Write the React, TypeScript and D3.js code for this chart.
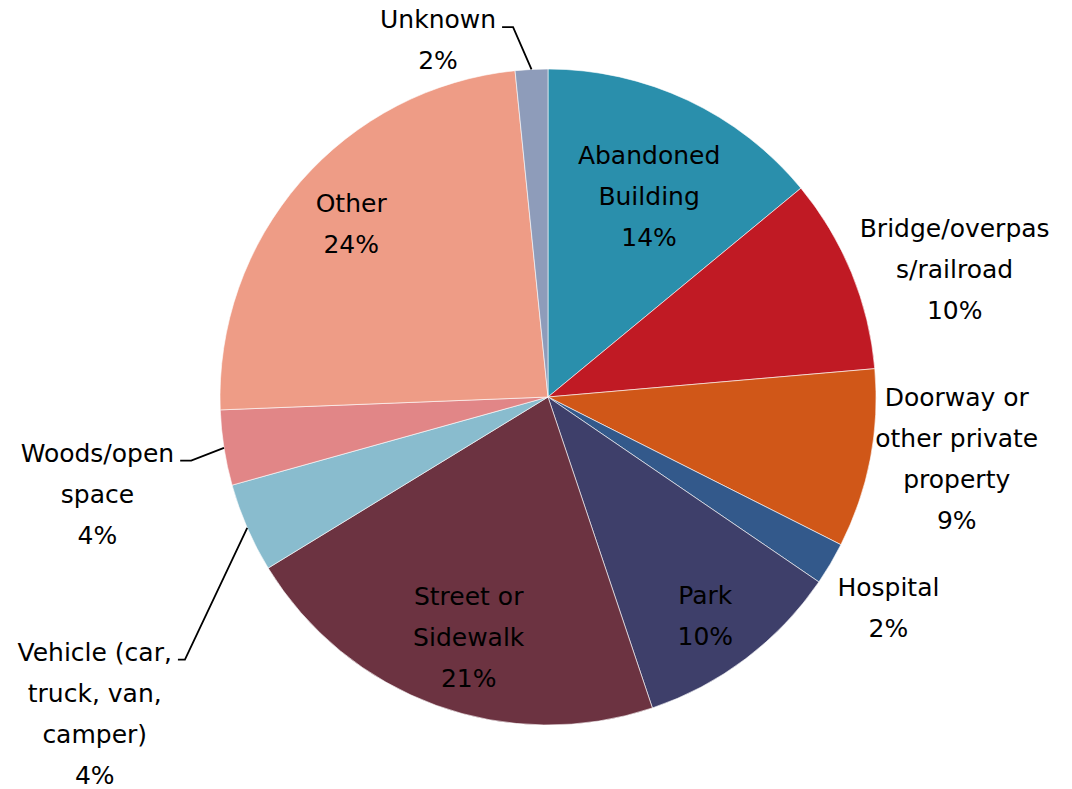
import React, { useEffect, useRef } from "react";
import * as d3 from "d3";

const categories = [
  "Abandoned Building",
  "Bridge/overpass/railroad",
  "Doorway or other private property",
  "Hospital",
  "Park",
  "Street or Sidewalk",
  "Vehicle (car, truck, van, camper)",
  "Woods/open space",
  "Other",
  "Unknown",
];
const values = [14.0, 9.6, 8.8, 2.1, 10.3, 21.4, 4.4, 3.7, 24.0, 1.6];
const labelLines = [
  ["Abandoned", "Building"],
  ["Bridge/overpas", "s/railroad"],
  ["Doorway or", "other private", "property"],
  ["Hospital"],
  ["Park"],
  ["Street or", "Sidewalk"],
  ["Vehicle (car,", "truck, van,", "camper)"],
  ["Woods/open", "space"],
  ["Other"],
  ["Unknown"],
];
const colors = [
  "#2a8fac",
  "#c01a24",
  "#d05718",
  "#33598b",
  "#3e3f6a",
  "#6c3341",
  "#89bcce",
  "#e18687",
  "#ee9c86",
  "#8e9cba",
];
// label placement: polar angle (deg, clockwise from north), radius factor, leader line
const labelAngle = [26.7, 72.5, 98.5, 121.7, 144.2, 198.3, 235.1, 257.9, 311.4, 342.9];
const labelRadius = [0.686, 1.3, 1.26, 1.22, 0.82, 0.77, 1.685, 1.405, 0.8, 1.14];
const hasLeader = [false, false, false, false, false, false, true, true, false, true];

const W = 1072;
const H = 789;
const CX = 548;
const CY = 397;
const R = 328;
const FONT = 25;
const LINE_H = 41;

export default function App() {
  const ref = useRef<SVGSVGElement>(null);
  useEffect(() => {
    const svg = d3.select(ref.current);
    svg.selectAll("*").remove();
    const data = categories.map((c, i) => ({ c, v: values[i], i }));
    const pie = d3.pie<any>().sort(null).value((d: any) => d.v);
    const arcs = pie(data);
    const arc = d3.arc<any>().innerRadius(0).outerRadius(R);
    const g = svg.append("g").attr("transform", `translate(${CX},${CY})`);
    g.selectAll("path")
      .data(arcs)
      .join("path")
      .attr("d", arc as any)
      .attr("fill", (d: any) => colors[d.data.i])
      .attr("stroke", "#ffffff")
      .attr("stroke-width", 0.6);

    arcs.forEach((a: any) => {
      const i = a.data.i;
      const ang = (labelAngle[i] * Math.PI) / 180;
      const lx = labelRadius[i] * R * Math.sin(ang);
      const ly = -labelRadius[i] * R * Math.cos(ang);
      const lines = [...labelLines[i], `${Math.round(a.data.v)}%`];
      const n = lines.length;
      const top = ly - ((n - 1) * LINE_H) / 2;
      const t = g
        .append("text")
        .attr("text-anchor", "middle")
        .attr("font-family", "DejaVu Sans")
        .attr("font-size", FONT)
        .attr("fill", "#000");
      const spans: SVGTSpanElement[] = [];
      lines.forEach((ln, k) => {
        const s = t
          .append("tspan")
          .attr("x", lx)
          .attr("y", top + k * LINE_H + FONT * 0.36)
          .text(ln);
        spans.push(s.node() as SVGTSpanElement);
      });
      if (hasLeader[i]) {
        const w = spans[0].getComputedTextLength();
        const right = lx + w / 2;
        const yb = top + FONT * 0.36 - 1;
        const mid = (a.startAngle + a.endAngle) / 2;
        const px = R * Math.sin(mid);
        const py = -R * Math.cos(mid);
        const x0 = right + 6;
        const x1 = right + (i === 6 ? 13 : 17);
        g.append("path")
          .attr("d", `M${x0},${yb}L${x1},${yb}L${px},${py}`)
          .attr("fill", "none")
          .attr("stroke", "#000")
          .attr("stroke-width", 1.8);
      }
    });
  }, []);
  return (
    <svg
      ref={ref}
      width={W}
      height={H}
      style={{ position: "absolute", left: 0, top: 0, background: "#fff" }}
    />
  );
}
